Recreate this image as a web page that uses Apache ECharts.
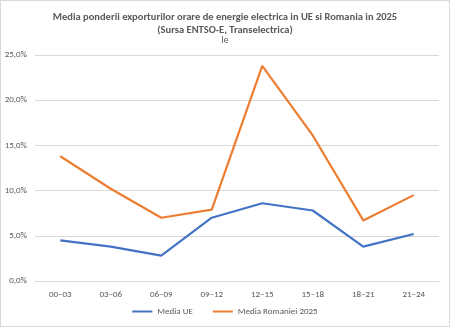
<!DOCTYPE html>
<html><head><meta charset="utf-8">
<script src="https://cdn.jsdelivr.net/npm/echarts@6/dist/echarts.min.js"></script>
<style>html,body{margin:0;padding:0;background:#fff}#c{width:450px;height:327px;box-sizing:border-box;border:1px solid #d9d9d9}</style>
</head><body><div id="c"></div>
<script>
const categories = ['00–03','03–06','06–09','09–12','12–15','15–18','18–21','21–24'];
const mediaUE = [4.5, 3.8, 2.8, 7.0, 8.6, 7.8, 3.8, 5.2];
const mediaRomania = [13.8, 10.2, 7.0, 7.9, 23.8, 16.1, 6.7, 9.5];
const seriesNames = ['Media UE', 'Media Romaniei 2025'];
const titleText = 'Media ponderii exporturilor orare de energie electrica in UE si Romania in 2025\n(Sursa ENTSO-E, Transelectrica)';
const subText = 'le';

const chart = echarts.init(document.getElementById('c'), null, {renderer:'canvas'});
const font = 'Calibri, Carlito, "Liberation Sans", "Open Sans", sans-serif';
chart.setOption({
  animation:false,
  title:[{text:titleText, left:'center', top:5, textStyle:{fontSize:10.5, fontWeight:'bold', color:'#595959', fontFamily:font, lineHeight:13}},
         {text:subText, left:'center', top:30, textStyle:{fontSize:9.5, fontWeight:'normal', color:'#595959', fontFamily:font}}],
  legend:{bottom:5, itemWidth:20, itemHeight:2, itemGap:20, icon:'rect', textStyle:{fontSize:9, color:'#595959', fontFamily:font}, data:seriesNames},
  grid:{left:34, right:10, top:54, bottom:45, containLabel:false},
  xAxis:{type:'category', data:categories, boundaryGap:true,
    axisLine:{lineStyle:{color:'#d9d9d9'}}, axisTick:{show:false},
    axisLabel:{fontSize:9, color:'#595959', fontFamily:font, margin:9}},
  yAxis:{type:'value', min:0, max:25, interval:5,
    axisLabel:{fontSize:9, color:'#595959', fontFamily:font, margin:8, formatter:v=>v.toFixed(1).replace('.',',')+'%'},
    splitLine:{lineStyle:{color:'#d9d9d9'}}, axisLine:{show:false}},
  series:[
    {name:seriesNames[0], type:'line', data:mediaUE, symbol:'none', lineStyle:{width:2.2, color:'#4472c4'}, itemStyle:{color:'#4472c4'}},
    {name:seriesNames[1], type:'line', data:mediaRomania, symbol:'none', lineStyle:{width:2.2, color:'#ed7d31'}, itemStyle:{color:'#ed7d31'}}
  ]
});
</script></body></html>
